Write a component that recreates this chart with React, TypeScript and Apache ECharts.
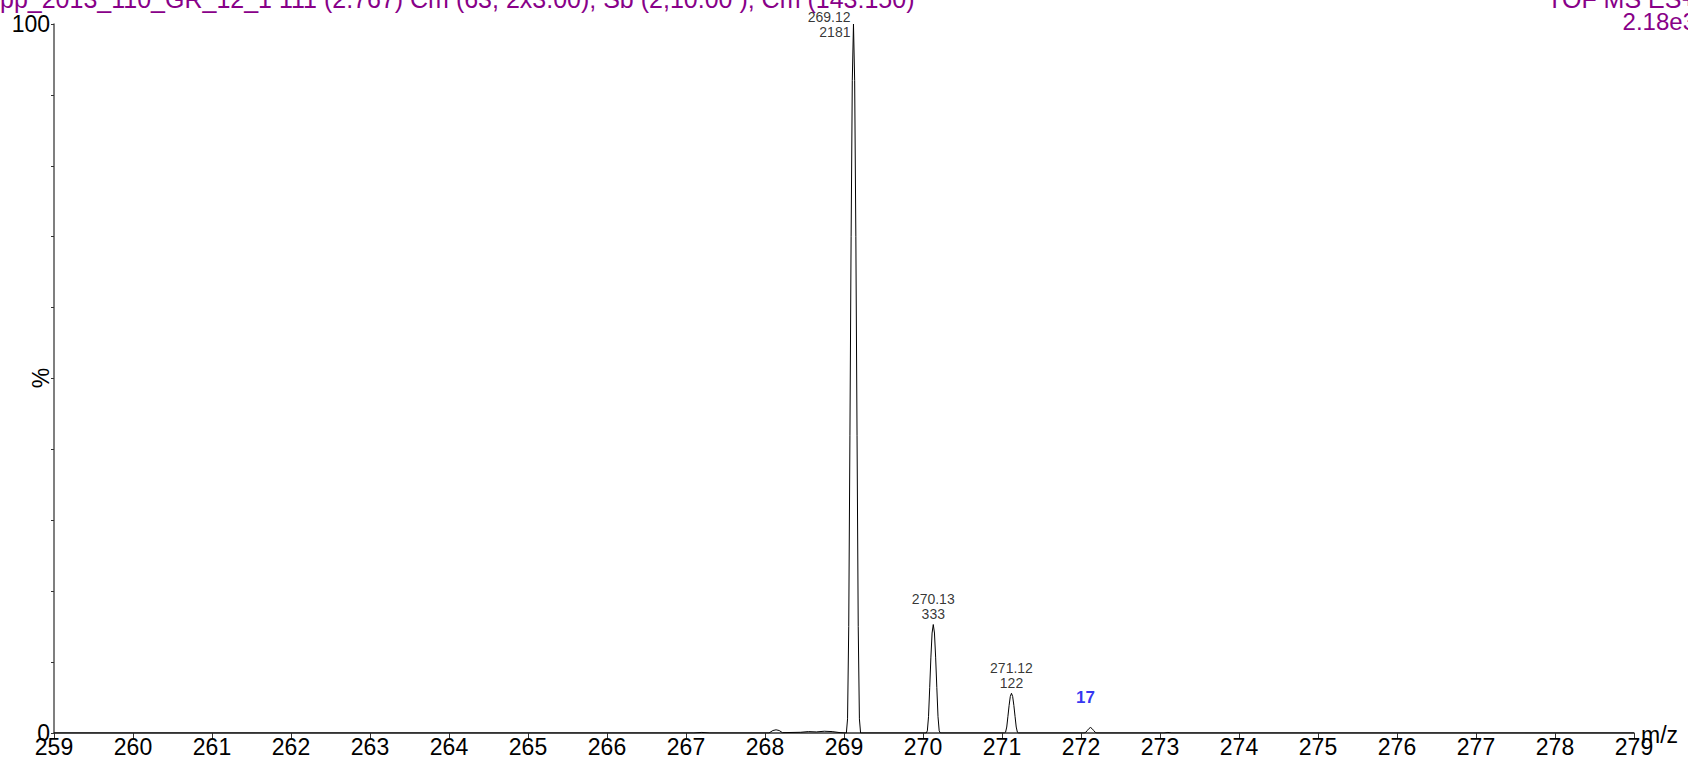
import { useEffect, useRef } from "react"
import * as echarts from "echarts"

// profile of the spectrum, m/z vs. % of base peak
const profileMz = [
  259.0, 267.1, 267.2, 267.3, 268.05, 268.1, 268.14, 268.18, 268.22, 268.45, 268.55, 268.65, 268.75, 268.85, 268.95,
  269.03, 269.045, 269.06, 269.075, 269.09, 269.105, 269.12, 269.135, 269.15, 269.165, 269.18, 269.195, 269.21,
  270.04, 270.055, 270.07, 270.085, 270.1, 270.115, 270.13, 270.145, 270.16, 270.175, 270.19, 270.205, 270.22,
  271.03, 271.045, 271.06, 271.075, 271.09, 271.105, 271.12, 271.135, 271.15, 271.165, 271.18, 271.195, 271.21,
  272.04, 272.06, 272.08, 272.1, 272.12, 272.14, 272.16, 272.18, 272.2,
  273.05, 273.1, 273.15, 279.0,
]
const profilePct = [
  0, 0, 0.08, 0, 0, 0.35, 0.45, 0.35, 0.05, 0.1, 0.2, 0.15, 0.25, 0.2, 0.05,
  0, 2, 15, 42, 70, 92, 100, 92, 70, 42, 15, 2, 0,
  0, 0.3, 2.3, 6.4, 10.7, 14.1, 15.3, 14.1, 10.7, 6.4, 2.3, 0.3, 0,
  0, 0.11, 0.84, 2.35, 3.9, 5.15, 5.6, 5.15, 3.9, 2.35, 0.84, 0.11, 0,
  0, 0.1, 0.35, 0.62, 0.78, 0.62, 0.35, 0.1, 0,
  0, 0.08, 0, 0,
]

// labelled peaks
const peakMz = [269.12, 270.13, 271.12]
const peakPct = [100, 15.3, 5.6]
const peakCounts = [2181, 333, 122]

// small peak marked in blue
const minorMz = [272.12]
const minorPct = [0.78]
const minorCounts = [17]

const xTicks = { min: 259, max: 279, step: 1 }
const yTicks = { min: 0, max: 100, step: 10 }

const titleLeft = "pp_2013_110_GR_12_1 111 (2.767) Cm (63, 2x3.00); Sb (2,10.00 ); Cm (143:150)"
const titleRight = "TOF MS ES+"
const scaleText = "2.18e3"
const xName = "m/z"
const yName = "%"

const FONT = "Liberation Sans, Arial, sans-serif"

export default function App() {
  const chartRef = useRef<HTMLDivElement>(null)

  useEffect(() => {
    if (!chartRef.current) return
    const chart = echarts.init(chartRef.current, null, { renderer: "svg" })

    const option: any = {
      animation: false,
      backgroundColor: "#ffffff",
      grid: { left: 54, right: 54, top: 24, bottom: 34, containLabel: false, outerBoundsMode: "none" },
      xAxis: {
        type: "value",
        min: xTicks.min,
        max: xTicks.max,
        interval: xTicks.step,
        axisLine: { lineStyle: { color: "#333", width: 1.5 } },
        axisTick: { length: 5, lineStyle: { color: "#333" } },
        axisLabel: { fontSize: 23, color: "#000", fontFamily: FONT, margin: 2 },
        splitLine: { show: false },
      },
      yAxis: {
        type: "value",
        min: yTicks.min,
        max: yTicks.max,
        interval: yTicks.step,
        axisLine: { show: true, lineStyle: { color: "#555", width: 1.5 } },
        axisTick: { show: true, length: 3, lineStyle: { color: "#333" } },
        axisLabel: {
          fontSize: 23,
          color: "#000",
          fontFamily: FONT,
          margin: 4,
          formatter: (v: number) => (v === yTicks.min || v === yTicks.max ? String(v) : ""),
        },
        splitLine: { show: false },
      },
      series: [
        {
          type: "line",
          data: profileMz.map((m, i) => [m, profilePct[i]]),
          showSymbol: false,
          symbol: "none",
          lineStyle: { color: "#000", width: 1 },
          silent: true,
        },
        {
          type: "scatter",
          symbolSize: 0,
          data: peakMz.map((m, i) => ({
            value: [m, peakPct[i]],
            label: i === 0 ? { position: "left", distance: 3, align: "right" } : { position: "top", distance: 3 },
          })),
          label: {
            show: true,
            fontSize: 14,
            lineHeight: 15,
            color: "#000",
            fontFamily: FONT,
            align: "center",
            formatter: (p: any) => `${peakMz[p.dataIndex].toFixed(2)}\n${peakCounts[p.dataIndex]}`,
          },
          silent: true,
        },
        {
          type: "scatter",
          symbolSize: 0,
          data: minorMz.map((m, i) => [m, minorPct[i]]),
          label: {
            show: true,
            position: "top",
            distance: 21,
            offset: [-5, 0],
            fontSize: 17,
            fontWeight: "bold",
            color: "#0000ee",
            fontFamily: FONT,
            formatter: (p: any) => String(minorCounts[p.dataIndex]),
          },
          silent: true,
        },
      ],
      graphic: [
        {
          type: "text",
          left: 0,
          top: -14,
          style: { text: titleLeft, fontSize: 25, fill: "#880088", fontFamily: FONT },
        },
        {
          type: "text",
          right: -8,
          top: -14,
          style: { text: titleRight, fontSize: 25, fill: "#880088", fontFamily: FONT },
        },
        {
          type: "text",
          right: -8,
          top: 9,
          style: { text: scaleText, fontSize: 24, fill: "#880088", fontFamily: FONT },
        },
        {
          type: "text",
          x: 41,
          y: 378,
          rotation: Math.PI / 2,
          style: { text: yName, fontSize: 23, fill: "#000", fontFamily: FONT, align: "center", verticalAlign: "middle" },
        },
        {
          type: "text",
          x: 1641,
          y: 735,
          style: { text: xName, fontSize: 23, fill: "#000", fontFamily: FONT, align: "left", verticalAlign: "middle" },
        },
      ],
    }

    chart.setOption(option)
    return () => chart.dispose()
  }, [])

  return <div ref={chartRef} style={{ position: "absolute", left: 0, top: 0, width: 1688, height: 767 }} />
}
